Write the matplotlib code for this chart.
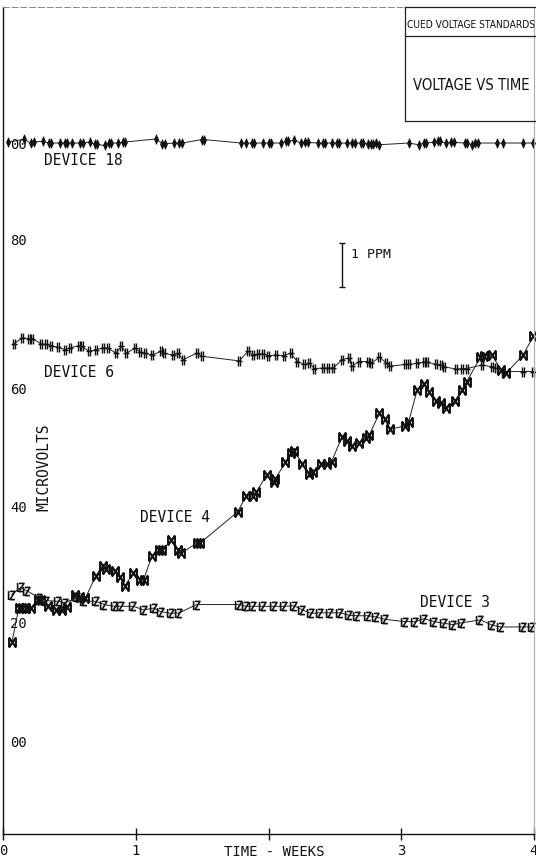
import matplotlib
matplotlib.use("Agg")
import matplotlib.pyplot as plt
from matplotlib.path import Path
from matplotlib import font_manager as fm

# ---------------- data (weeks, microvolts) ----------------
d18_t = [0.034, 0.158, 0.209, 0.230, 0.302, 0.346, 0.364, 0.431, 0.464, 0.480,
         0.518, 0.583, 0.601, 0.652, 0.693, 0.706, 0.768, 0.799, 0.814, 0.866,
         0.904, 0.920, 1.154, 1.201, 1.219, 1.291, 1.329, 1.350, 1.497, 1.517,
         1.793, 1.832, 1.873, 1.888, 1.960, 2.004, 2.020, 2.094, 2.135, 2.148,
         2.192, 2.244, 2.277, 2.295, 2.372, 2.409, 2.424, 2.475, 2.514, 2.532,
         2.591, 2.630, 2.648, 2.697, 2.715, 2.746, 2.772, 2.784, 2.810, 2.836,
         3.055, 3.132, 3.171, 3.189, 3.248, 3.274, 3.292, 3.338, 3.377, 3.395,
         3.480, 3.498, 3.531, 3.557, 3.578, 3.724, 3.763, 3.918, 3.995]
d18_v = [101.65, 102.17, 101.54, 101.71, 101.83, 101.54, 101.54, 101.54, 101.54, 101.54,
         101.54, 101.54, 101.54, 101.71, 101.30, 101.30, 101.13, 101.54, 101.54, 101.54,
         101.71, 101.71, 102.23, 101.42, 101.42, 101.54, 101.54, 101.54, 102.12, 102.12,
         101.54, 101.54, 101.54, 101.54, 101.54, 101.54, 101.54, 101.54, 101.83, 101.83,
         102.00, 101.54, 101.65, 101.65, 101.54, 101.54, 101.54, 101.54, 101.54, 101.54,
         101.54, 101.54, 101.54, 101.54, 101.54, 101.42, 101.42, 101.42, 101.54, 101.25,
         101.54, 101.25, 101.54, 101.54, 101.71, 101.83, 101.83, 101.54, 101.65, 101.65,
         101.54, 101.54, 101.25, 101.54, 101.54, 101.54, 101.54, 101.54, 101.54]

d6_t = [0.080, 0.145, 0.196, 0.222, 0.286, 0.325, 0.364, 0.415, 0.467, 0.505,
        0.570, 0.595, 0.647, 0.698, 0.750, 0.789, 0.853, 0.891, 0.930, 0.995,
        1.033, 1.072, 1.123, 1.188, 1.213, 1.278, 1.317, 1.355, 1.458, 1.497,
        1.780, 1.844, 1.883, 1.921, 1.960, 1.999, 2.058, 2.115, 2.166, 2.218,
        2.269, 2.308, 2.346, 2.411, 2.450, 2.488, 2.553, 2.604, 2.630, 2.681,
        2.746, 2.772, 2.836, 2.887, 2.913, 3.029, 3.055, 3.119, 3.171, 3.197,
        3.261, 3.300, 3.325, 3.416, 3.454, 3.493, 3.609, 3.686, 3.712, 3.763,
        3.918, 3.995]
d6_v = [67.5, 68.5, 68.4, 68.4, 67.5, 67.4, 67.2, 66.9, 66.5, 66.8,
        67.2, 67.1, 66.2, 66.5, 66.8, 66.8, 65.9, 67.1, 65.9, 66.8,
        66.1, 65.9, 65.6, 66.2, 65.9, 65.6, 65.9, 64.8, 65.9, 65.4,
        64.6, 66.2, 65.6, 65.8, 65.8, 65.5, 65.6, 65.5, 65.9, 64.5,
        64.0, 64.2, 63.3, 63.4, 63.4, 63.4, 64.8, 65.1, 63.7, 64.5,
        64.5, 64.2, 65.2, 64.3, 63.7, 64.0, 64.0, 64.2, 64.4, 64.4,
        64.0, 63.9, 63.6, 63.2, 63.3, 63.3, 63.9, 63.6, 63.4, 62.8,
        62.8, 62.8]

d4_t = [0.067, 0.119, 0.145, 0.171, 0.209, 0.261, 0.286, 0.338, 0.402, 0.441,
        0.480, 0.544, 0.583, 0.621, 0.698, 0.750, 0.776, 0.840, 0.879, 0.917,
        0.982, 1.033, 1.059, 1.123, 1.175, 1.201, 1.265, 1.317, 1.342, 1.458,
        1.484, 1.767, 1.832, 1.883, 1.909, 1.986, 2.038, 2.051, 2.128, 2.166,
        2.192, 2.256, 2.308, 2.334, 2.398, 2.437, 2.475, 2.553, 2.591, 2.630,
        2.681, 2.733, 2.759, 2.836, 2.874, 2.913, 3.029, 3.055, 3.119, 3.171,
        3.209, 3.261, 3.300, 3.338, 3.403, 3.454, 3.493, 3.596, 3.622, 3.686,
        3.750, 3.789, 3.918, 3.995]
d4_v = [16.9, 22.7, 22.7, 22.7, 22.7, 24.0, 24.0, 23.0, 22.4, 22.4,
        22.8, 25.0, 24.6, 24.4, 28.1, 29.9, 29.3, 29.0, 28.0, 26.4,
        28.7, 27.5, 27.5, 31.6, 32.5, 32.5, 34.2, 32.5, 32.0, 33.7,
        33.7, 39.0, 41.7, 41.7, 42.4, 45.3, 44.1, 44.6, 47.4, 49.0,
        49.3, 47.2, 45.5, 45.7, 47.1, 47.1, 47.5, 51.7, 51.0, 50.2,
        50.7, 51.6, 52.0, 55.8, 54.8, 53.0, 53.6, 54.2, 59.6, 60.7,
        59.3, 57.8, 57.5, 56.7, 57.8, 59.6, 61.1, 65.2, 65.4, 65.6,
        63.0, 62.5, 65.6, 68.8]

d3_t = [0.067, 0.132, 0.183, 0.274, 0.325, 0.415, 0.467, 0.557, 0.608, 0.698,
        0.763, 0.840, 0.891, 0.982, 1.059, 1.136, 1.188, 1.265, 1.329, 1.458,
        1.780, 1.832, 1.883, 1.960, 2.038, 2.115, 2.192, 2.256, 2.321, 2.385,
        2.463, 2.540, 2.604, 2.669, 2.746, 2.810, 2.874, 3.029, 3.106, 3.171,
        3.248, 3.325, 3.390, 3.454, 3.596, 3.686, 3.750, 3.918, 3.982]
d3_v = [25.0, 26.2, 25.6, 24.4, 23.96, 23.85, 23.6, 24.5, 23.85, 23.85,
        23.3, 23.0, 23.0, 23.0, 22.4, 22.7, 22.1, 21.8, 21.9, 23.3,
        23.3, 23.0, 23.0, 23.0, 23.0, 23.0, 23.1, 22.4, 21.8, 21.9,
        21.9, 21.9, 21.5, 21.4, 21.4, 21.2, 20.8, 20.4, 20.4, 20.9,
        20.4, 20.1, 19.9, 20.2, 20.7, 19.8, 19.5, 19.5, 19.5]

x_ticks = [0, 1, 2, 3, 4]
x_tick_labels = ["0", "1", "", "3", "4"]
y_ticks = [0.0, 20.2, 40.0, 60.0, 85.25, 101.5]
y_tick_labels = ["00", "20", "40", "60", "80", "00"]

device_labels = ["DEVICE 18", "DEVICE 6", "DEVICE 4", "DEVICE 3"]
device_label_pos = [(0.31, 98.6), (0.31, 62.7), (1.03, 38.0), (3.14, 23.6)]
ppm_bar_x = 2.551
ppm_bar_lo, ppm_bar_hi = 77.2, 84.6

# ---------------- fonts ----------------
mono = ["DejaVu Sans Mono", "DejaVu Sans"]


def find_narrow():
    keys = ("Narrow", "Condensed", "Cond")
    for f in fm.fontManager.ttflist:
        if any(k in f.name for k in keys) or any(k.lower() in f.fname.lower() for k in keys):
            low = f.fname.lower()
            if "bold" in low or "italic" in low or "oblique" in low:
                continue
            return f.fname
    return None


narrow_file = find_narrow()
if narrow_file:
    fp_small = fm.FontProperties(fname=narrow_file, size=7.3)
    fp_big = fm.FontProperties(fname=narrow_file, size=10.6)
else:
    fp_small = fm.FontProperties(family="Liberation Sans", size=7.0)
    fp_big = fm.FontProperties(family="Liberation Sans", size=10.2)

# ---------------- markers ----------------
M, L = Path.MOVETO, Path.LINETO
mk_d18 = Path([(0, 1), (0.55, 0), (0, -1), (-0.55, 0), (0, 1), (0, 1.5), (0, -1.5)],
              [M, L, L, L, L, M, L])
mk_d6 = Path([(-0.8, 0), (0.8, 0), (-0.25, -1.2), (-0.25, 1.2), (0.25, -1.2), (0.25, 1.2)],
             [M, L, M, L, M, L])
mk_d4 = Path([(-0.7, -1), (0.7, 1), (-0.7, 1), (0.7, -1), (-0.7, -1), (-0.7, 1),
              (0.7, -1), (0.7, 1)],
             [M, L, M, L, M, L, M, L])
mk_d3 = Path([(-0.6, 1), (0.6, 1), (-0.6, -1), (0.6, -1), (-0.95, -1.1), (-0.95, 1.1)],
             [M, L, L, L, M, L])

ink = "#111111"

fig = plt.figure(figsize=(5.36, 8.61), dpi=100)
W, H = 536.0, 861.0
ax = fig.add_axes([3 / W, 1 - 834 / H, 531 / W, 827 / H])
ax.set_xlim(0, 4)
ax.set_ylim(-15.6, 124.6)

series = [(d18_t, d18_v, mk_d18, 7, 1.0), (d6_t, d6_v, mk_d6, 7, 1.0),
          (d4_t, d4_v, mk_d4, 7, 1.5), (d3_t, d3_v, mk_d3, 6.5, 1.2)]
for t, v, mk, ms, mew in series:
    ax.plot(t, v, color="#222222", lw=0.7, marker=mk, markersize=ms,
            markeredgewidth=mew, markeredgecolor=ink, markerfacecolor="none",
            clip_on=False)

for txt, (x, y) in zip(device_labels, device_label_pos):
    ax.text(x, y, txt, family=mono, fontsize=10.5, color=ink, ha="left", va="center")

# 1 PPM scale bar
ax.errorbar([ppm_bar_x], [(ppm_bar_lo + ppm_bar_hi) / 2],
            yerr=[[(ppm_bar_hi - ppm_bar_lo) / 2]], color=ink, lw=1.0,
            capsize=2.5, capthick=1.0, fmt="none")
ax.text(ppm_bar_x + 0.07, 82.6, "1 PPM", family=mono, fontsize=9.5, color=ink,
        ha="left", va="center")

# axes styling
ax.set_xticks(x_ticks)
ax.set_xticklabels(x_tick_labels, family=mono, fontsize=10, color=ink)
ax.tick_params(axis="x", direction="inout", length=9, width=1.0, pad=3, colors=ink)
ax.set_yticks(y_ticks)
ax.set_yticklabels(y_tick_labels, family=mono, fontsize=10, color=ink, ha="left")
ax.tick_params(axis="y", length=0, pad=-5)
for s in ["left", "bottom"]:
    ax.spines[s].set_color(ink)
    ax.spines[s].set_linewidth(1.0)
ax.spines["top"].set_color("#888888")
ax.spines["top"].set_linewidth(0.7)
ax.spines["top"].set_linestyle((0, (6, 3)))
ax.spines["right"].set_color("#aaaaaa")
ax.spines["right"].set_linewidth(0.8)

ax.text(2.04, -0.022, "TIME - WEEKS", transform=ax.get_xaxis_transform(),
        family=mono, fontsize=10, color=ink, ha="center", va="center")
ax.text(0.31, 46.5, "MICROVOLTS", family=mono, fontsize=10.5, color=ink,
        rotation=90, ha="center", va="center")

# title box
bx = fig.add_axes([405 / W, 1 - 121 / H, 140 / W, 114 / H])
bx.set_xlim(0, 1)
bx.set_ylim(0, 1)
bx.set_xticks([])
bx.set_yticks([])
bx.patch.set_alpha(0)
for s in bx.spines.values():
    s.set_color("#222222")
    s.set_linewidth(0.9)
bx.axhline(1 - 29 / 114, color="#222222", lw=0.9)
bx.text(0.015, 1 - 18 / 114, "CUED VOLTAGE STANDARDS", fontproperties=fp_small,
        color=ink, ha="left", va="center")
bx.text(0.06, 1 - 78 / 114, "VOLTAGE VS TIME", fontproperties=fp_big,
        color=ink, ha="left", va="center")

fig.savefig("out.png", dpi=100, facecolor="white")
